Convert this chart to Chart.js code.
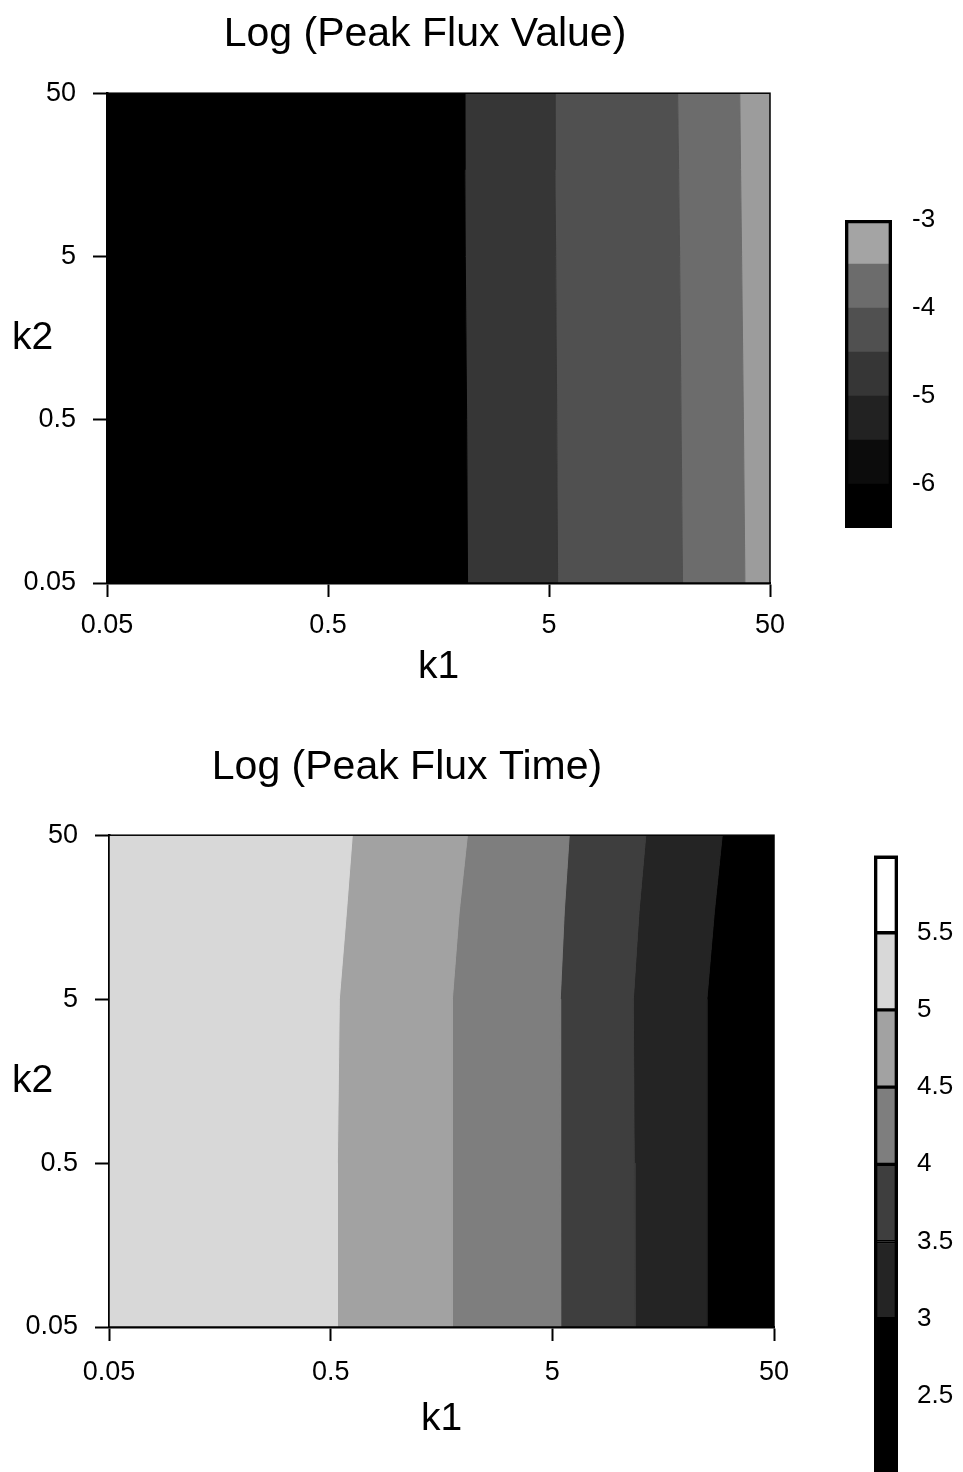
<!DOCTYPE html>
<html>
<head>
<meta charset="utf-8">
<title>Log (Peak Flux Value) / Log (Peak Flux Time)</title>
<script src="https://cdn.jsdelivr.net/npm/chart.js@4.4.1/dist/chart.umd.min.js"></script>
<style>
  html, body { margin: 0; padding: 0; background: #fff; }
  body { width: 963px; height: 1472px; overflow: hidden; position: relative; }
  canvas { position: absolute; }
</style>
</head>
<body>
<canvas id="valueChart" width="963" height="720" style="left:0;top:0"></canvas>
<canvas id="valueBar" width="128" height="360" style="left:835px;top:190px"></canvas>
<canvas id="timeChart" width="963" height="742" style="left:0;top:730px"></canvas>
<canvas id="timeBar" width="99" height="650" style="left:864px;top:840px"></canvas>
<script>
// axis ticks shared by both maps
var tickValues = [0.05, 0.5, 5, 50];
var tickLabels = ['0.05', '0.5', '5', '50'];

var k2Points = [0.05, 0.5, 5, 17, 50];

// Log (Peak Flux Value): k1 of each contour line at k2Points
var valueLevels = [-5, -4.5, -4, -3.5];
var valueC50 = [2.14, 2.12, 2.09, 2.08, 2.07];
var valueC45 = [5.47, 5.42, 5.36, 5.32, 5.30];
var valueC40 = [20.1, 19.8, 19.5, 19.3, 19.1];
var valueC35 = [38.5, 37.9, 37.2, 36.8, 36.5];

// Log (Peak Flux Time): k1 of each contour line at k2Points
var timeLevels = [5, 4.5, 4, 3.5, 3];
var timeC50 = [0.536, 0.536, 0.547, 0.589, 0.626];
var timeC45 = [1.77, 1.77, 1.77, 1.90, 2.07];
var timeC40 = [5.45, 5.45, 5.43, 5.66, 5.96];
var timeC35 = [11.8, 11.7, 11.6, 12.3, 13.2];
var timeC30 = [24.9, 24.9, 24.9, 26.9, 29.2];

// colour bars
var valueBarLevels = [-6.5, -6, -5.5, -5, -4.5, -4, -3.5, -3];
var valueBarTicks = [-6, -5, -4, -3];
var timeBarLevels = [2, 3, 3.5, 4, 4.5, 5, 5.5, 6];
var timeBarTicks = [2.5, 3, 3.5, 4, 4.5, 5, 5.5];

// grey shades (left to right in the maps, low to high in the bars)
var valueFills = ['#000000', '#363636', '#505050', '#6c6c6c', '#9c9c9c'];
var timeFills = ['#d8d8d8', '#a2a2a2', '#7e7e7e', '#3e3e3e', '#242424', '#000000'];
var valueBarColors = ['#000000', '#0c0c0c', '#222222', '#363636', '#505050', '#6c6c6c', '#a4a4a4'];
var timeBarColors = ['#000000', '#242424', '#3e3e3e', '#7e7e7e', '#a2a2a2', '#d8d8d8', '#ffffff'];

var fontFamily = "'Liberation Sans', Arial, Helvetica, sans-serif";
Chart.defaults.font.family = fontFamily;
Chart.defaults.color = '#000';

// horizontal "k2" at the left of a map
var sideLabel = {
    id: 'sideLabel',
    afterDraw: function (chart, args, opts) {
        if (!opts.text) return;
        var ctx = chart.ctx;
        var a = chart.chartArea;
        ctx.save();
        ctx.font = opts.size + 'px ' + fontFamily;
        ctx.fillStyle = '#000';
        ctx.textAlign = 'left';
        ctx.textBaseline = 'middle';
        ctx.fillText(opts.text, opts.x, (a.top + a.bottom) / 2);
        ctx.restore();
    }
};

// thin box round the plot area
var frame = {
    id: 'frame',
    afterDatasetsDraw: function (chart, args, opts) {
        if (!opts.width) return;
        var ctx = chart.ctx;
        var a = chart.chartArea;
        ctx.save();
        ctx.strokeStyle = '#000';
        ctx.lineWidth = opts.width;
        ctx.strokeRect(a.left, a.top, a.right - a.left, a.bottom - a.top);
        ctx.restore();
    }
};

// let the y tick labels use the room left of a narrow y axis box
var labelRoom = {
    id: 'labelRoom',
    afterLayout: function (chart, args, opts) {
        if (!opts.on || !chart.scales.y) return;
        var y = chart.scales.y;
        y.left = 0;
        y.width = y.right;
    }
};

Chart.register(sideLabel, frame, labelRoom);

function setLogTicks(scale) {
    scale.ticks = tickValues.map(function (v) { return { value: v }; });
}

function logTickLabel(value) {
    for (var i = 0; i < tickValues.length; i++) {
        if (Math.abs(value - tickValues[i]) < 1e-9) return tickLabels[i];
    }
    return '';
}

// one closed polygon per band, between two contour lines
function bandSets(bounds, fills) {
    var leftEdge = k2Points.map(function () { return tickValues[0]; });
    var rightEdge = k2Points.map(function () { return tickValues[tickValues.length - 1]; });
    var edges = [leftEdge].concat(bounds).concat([rightEdge]);
    var sets = [];
    for (var i = 0; i < edges.length - 1; i++) {
        var pts = [];
        for (var j = 0; j < k2Points.length; j++) {
            pts.push({ x: edges[i][j], y: k2Points[j] });
        }
        for (var j = k2Points.length - 1; j >= 0; j--) {
            pts.push({ x: edges[i + 1][j], y: k2Points[j] });
        }
        sets.push({
            data: pts,
            showLine: true,
            fill: 'shape',
            backgroundColor: fills[i],
            borderColor: fills[i],
            borderWidth: 1,
            pointRadius: 0,
            tension: 0
        });
    }
    return sets;
}

function mapChart(id, o) {
    return new Chart(document.getElementById(id), {
        type: 'scatter',
        data: { datasets: bandSets(o.bounds, o.fills) },
        options: {
            responsive: false,
            animation: false,
            events: [],
            layout: { padding: { left: o.padLeft, right: o.padRight, top: 0, bottom: 0 } },
            plugins: {
                legend: { display: false },
                tooltip: { enabled: false },
                title: {
                    display: true,
                    text: o.title,
                    color: '#000',
                    font: { size: 41, weight: 'normal' },
                    padding: { top: o.titleTop, bottom: o.titleBottom }
                },
                sideLabel: { text: 'k2', x: 12, size: 39 },
                frame: { width: 1.5 },
                labelRoom: { on: true }
            },
            scales: {
                x: {
                    type: 'logarithmic',
                    min: tickValues[0],
                    max: tickValues[tickValues.length - 1],
                    afterBuildTicks: setLogTicks,
                    afterFit: function (s) { s.height = o.xAxisHeight; },
                    ticks: { callback: logTickLabel, font: { size: 27 }, padding: o.xLabelPad, maxRotation: 0, autoSkip: false },
                    grid: { drawOnChartArea: false, drawTicks: true, tickLength: 14, tickColor: '#000', tickWidth: 2 },
                    border: { display: true, color: '#000', width: 2.5 },
                    title: { display: true, text: 'k1', font: { size: 39 }, padding: { top: 0, bottom: 29 } }
                },
                y: {
                    type: 'logarithmic',
                    min: tickValues[0],
                    max: tickValues[tickValues.length - 1],
                    afterBuildTicks: setLogTicks,
                    afterFit: function (s) { s.width = o.yAxisWidth; },
                    ticks: { callback: logTickLabel, font: { size: 27 }, padding: 17, autoSkip: false },
                    grid: { drawOnChartArea: false, drawTicks: true, tickLength: 14, tickColor: '#000', tickWidth: 2 },
                    border: { display: true, color: '#000', width: 2.5 }
                }
            }
        }
    });
}

function barChart(id, o) {
    var sets = [{
        data: [[o.levels[0], o.levels[o.levels.length - 1]]],
        backgroundColor: 'rgba(0,0,0,0)',
        borderColor: '#000',
        borderWidth: 3
    }];
    for (var i = 0; i < o.levels.length - 1; i++) {
        sets.push({
            data: [[o.levels[i], o.levels[i + 1]]],
            backgroundColor: o.colors[i],
            borderColor: '#000',
            borderWidth: o.sepWidth
        });
    }
    return new Chart(document.getElementById(id), {
        type: 'bar',
        data: { labels: [''], datasets: sets },
        options: {
            responsive: false,
            animation: false,
            events: [],
            layout: { padding: o.padding },
            datasets: { bar: { grouped: false, barPercentage: 1, categoryPercentage: 1, borderSkipped: false } },
            plugins: { legend: { display: false }, tooltip: { enabled: false } },
            scales: {
                x: { display: false },
                y: {
                    position: 'right',
                    min: o.levels[0],
                    max: o.levels[o.levels.length - 1],
                    afterBuildTicks: function (s) {
                        s.ticks = o.ticks.map(function (v) { return { value: v }; });
                    },
                    afterFit: function (s) { s.width = o.axisWidth; },
                    // gap to the labels comes from an undrawn tick length, so no extra vertical padding
                    ticks: { callback: function (v) { return String(v); }, font: { size: 26 }, padding: 0, autoSkip: false },
                    grid: { display: false, drawTicks: true, tickLength: o.labelGap },
                    border: { display: false }
                }
            }
        }
    });
}

mapChart('valueChart', {
    title: 'Log (Peak Flux Value)',
    bounds: [valueC50, valueC45, valueC40, valueC35],
    fills: valueFills,
    padLeft: 80, padRight: 193, yAxisWidth: 27,
    titleTop: 10, titleBottom: 34,
    xAxisHeight: 137, xLabelPad: 12
});

mapChart('timeChart', {
    title: 'Log (Peak Flux Time)',
    bounds: [timeC50, timeC45, timeC40, timeC35, timeC30],
    fills: timeFills,
    padLeft: 40, padRight: 189, yAxisWidth: 69,
    titleTop: 13, titleBottom: 43,
    xAxisHeight: 145, xLabelPad: 15
});

barChart('valueBar', {
    levels: valueBarLevels,
    ticks: valueBarTicks,
    colors: valueBarColors,
    sepWidth: 0,
    padding: { left: 10, right: 0, top: 30, bottom: 22 },
    axisWidth: 71,
    labelGap: 20
});

barChart('timeBar', {
    levels: timeBarLevels,
    ticks: timeBarTicks,
    colors: timeBarColors,
    sepWidth: 2,
    padding: { left: 10, right: 0, top: 13, bottom: 17 },
    axisWidth: 65,
    labelGap: 19
});
</script>
</body>
</html>
